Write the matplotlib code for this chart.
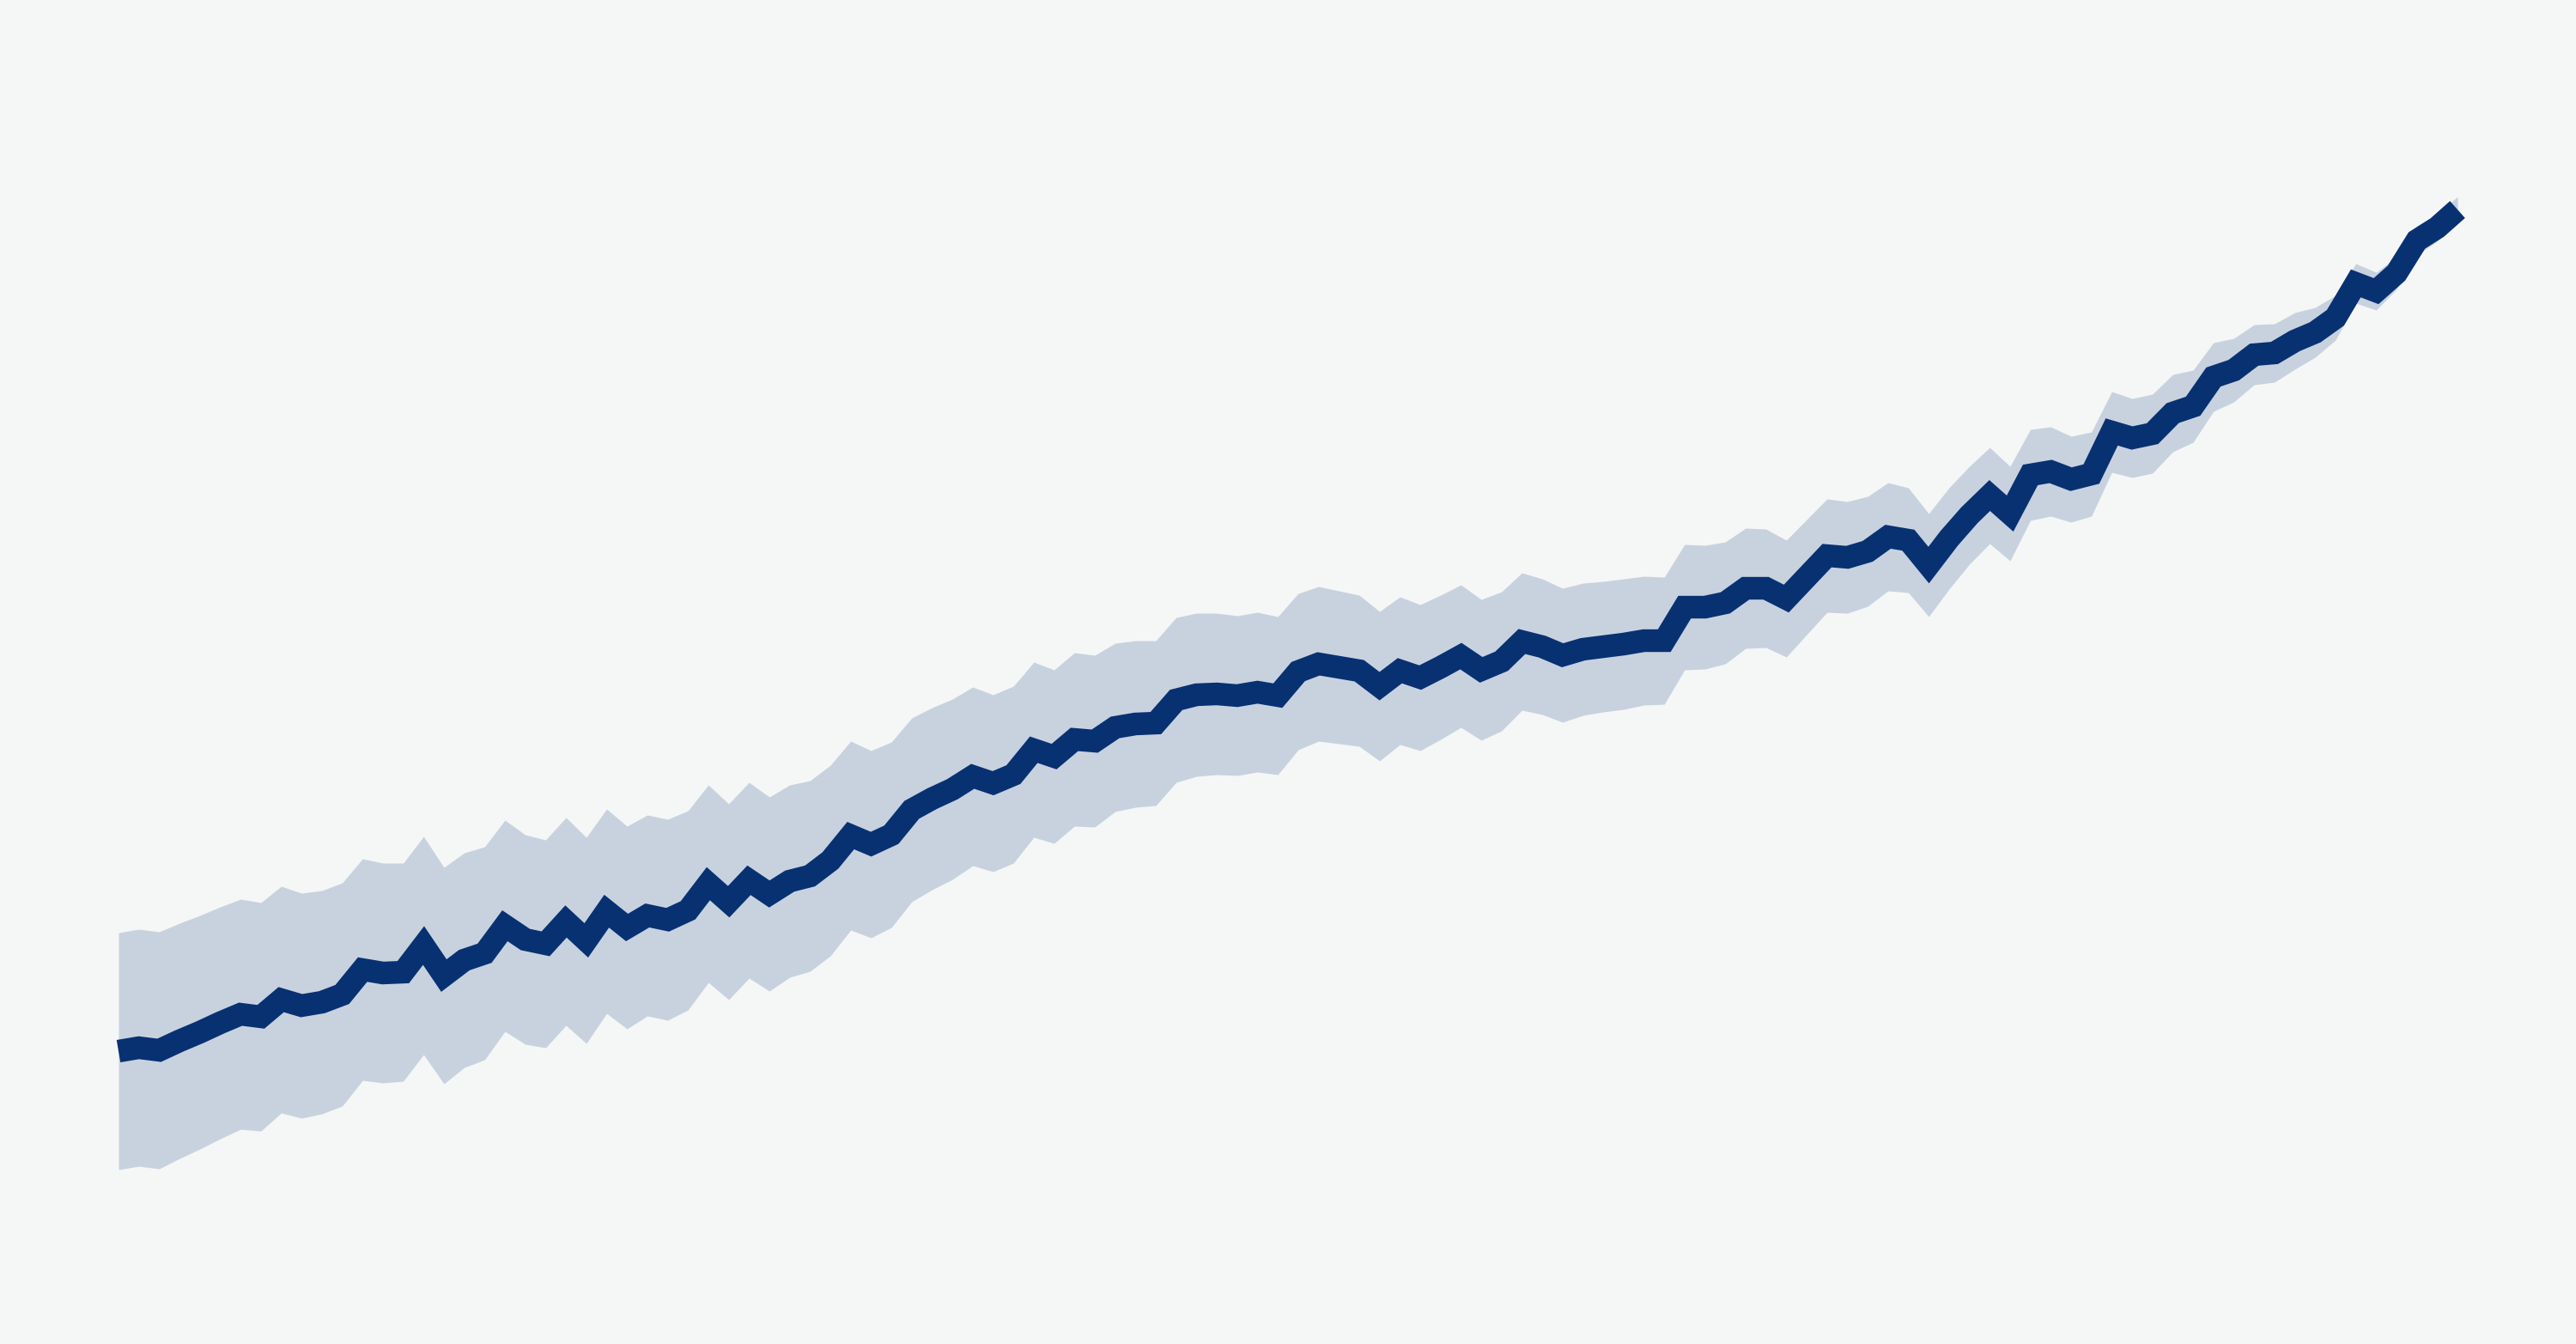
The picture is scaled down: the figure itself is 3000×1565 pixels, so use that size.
import numpy as np
import matplotlib
matplotlib.use("Agg")
import matplotlib.pyplot as plt

# yearly series, arbitrary units (no axes are shown)
years = list(range(1900, 2016))

mean = [34.1, 34.5, 34.2, 35.3, 36.3, 37.4, 38.4, 38.1, 40.1, 39.4,
        39.8, 40.7, 43.6, 43.2, 43.3, 46.4, 42.9, 44.7, 45.5, 48.7,
        47.1, 46.6, 49.2, 47.0, 50.4, 48.5, 49.9, 49.4, 50.5, 53.6,
        51.5, 54.0, 52.4, 53.9, 54.5, 56.3, 59.2, 58.2, 59.3, 62.2,
        63.5, 64.6, 66.1, 65.3, 66.3, 69.2, 68.4, 70.4, 70.2, 71.8,
        72.2, 72.3, 75.0, 75.6, 75.7, 75.5, 75.9, 75.5, 78.3, 79.2,
        78.8, 78.4, 76.6, 78.4, 77.6, 78.8, 80.1, 78.5, 79.5, 81.8,
        81.2, 80.2, 80.9, 81.2, 81.5, 81.9, 81.9, 85.8, 85.8, 86.3,
        88.0, 88.0, 86.8, 89.3, 91.8, 91.6, 92.3, 94.0, 93.6, 90.7,
        93.8, 96.5, 98.8, 96.7, 101.2, 101.6, 100.7, 101.3, 106.2, 105.5,
        106.0, 108.4, 109.2, 112.6, 113.4, 115.2, 115.4, 116.8, 117.8, 119.5,
        123.5, 122.6, 124.7, 128.5, 130.0, 132.1]

# half width of the uncertainty band
spread = [13.8, 13.8, 13.8, 13.7, 13.6, 13.5, 13.4, 13.3, 13.2, 13.1,
          13.0, 13.0, 12.9, 12.8, 12.7, 12.7, 12.6, 12.5, 12.4, 12.3,
          12.2, 12.1, 12.1, 12.0, 11.9, 11.8, 11.7, 11.7, 11.6, 11.5,
          11.4, 11.4, 11.3, 11.2, 11.1, 11.1, 11.0, 10.9, 10.8, 10.7,
          10.6, 10.5, 10.4, 10.3, 10.3, 10.2, 10.1, 10.1, 10.0, 9.8,
          9.7, 9.6, 9.6, 9.5, 9.4, 9.3, 9.3, 9.2, 9.1, 9.0,
          8.9, 8.8, 8.7, 8.6, 8.5, 8.4, 8.3, 8.2, 8.1, 8.0,
          7.9, 7.8, 7.7, 7.6, 7.6, 7.5, 7.4, 7.3, 7.2, 7.1,
          7.0, 6.9, 6.8, 6.7, 6.6, 6.5, 6.4, 6.3, 6.1, 6.0,
          5.9, 5.7, 5.6, 5.5, 5.3, 5.2, 5.0, 4.9, 4.7, 4.6,
          4.6, 4.5, 4.2, 4.0, 3.7, 3.5, 3.4, 3.3, 2.9, 2.6,
          2.3, 2.2, 1.9, 1.7, 1.6, 1.5]

bg = "#f5f7f6"
line_col = "#083172"
band_col = "#c8d2df"

mean = np.array(mean)
spread = np.array(spread)

fig = plt.figure(figsize=(30, 15.65), dpi=100, facecolor=bg)
ax = fig.add_axes([0, 0, 1, 1])
ax.set_facecolor(bg)

ax.fill_between(years, mean - spread, mean + spread, color=band_col, lw=0)
ax.plot(years, mean, color=line_col, lw=19,
        solid_joinstyle="miter", solid_capstyle="butt")

# first year sits ~138 px from the left, last ~2862 px
step = (2862 - 138) / 115
ax.set_xlim(1900 - 138 / step, 2015 + (3000 - 2862) / step)
ax.set_ylim(0, 156.5)
ax.axis("off")

fig.savefig("out.png", dpi=100, facecolor=bg)
